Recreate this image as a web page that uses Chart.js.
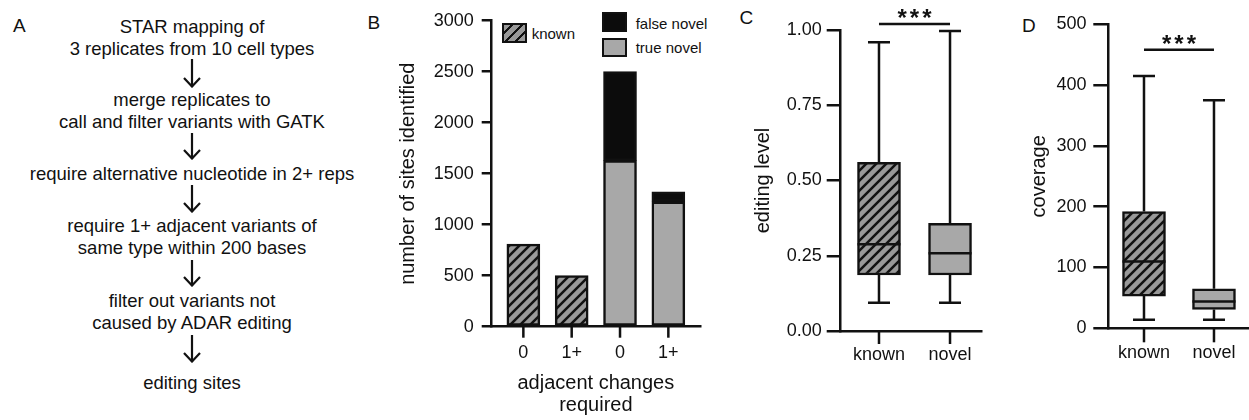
<!DOCTYPE html>
<html lang="en">
<head>
<meta charset="UTF-8">
<title>RNA editing sites</title>
<script src="https://cdn.jsdelivr.net/npm/chart.js"></script>
<style>
  body { margin: 0; background: #fff; color: #111; font-family: "Liberation Sans", Arial, sans-serif; }
  .fig { position: relative; width: 1249px; height: 420px; overflow: hidden; }
  .letter { position: absolute; font-size: 19px; line-height: 19px; }
  .flow { position: absolute; left: 0; width: 384px; text-align: center; font-size: 18.5px; line-height: 22px; white-space: nowrap; }
  .arrow { position: absolute; left: 181.7px; }
  .chart-box { position: absolute; top: 0; height: 420px; }
  .leg { position: absolute; font-size: 15px; line-height: 18px; white-space: nowrap; }
  .sw { position: absolute; box-sizing: border-box; border: 2px solid #111; }
</style>
</head>
<body>
<div class="fig">
  <!-- panel letters -->
  <div class="letter" style="left:13px; top:16px;">A</div>
  <div class="letter" style="left:367.5px; top:12.5px;">B</div>
  <div class="letter" style="left:739.5px; top:7.5px;">C</div>
  <div class="letter" style="left:1022px; top:16px;">D</div>

  <!-- A: pipeline -->
  <div class="flow" style="top:15.5px;">STAR mapping of</div>
  <div class="flow" style="top:37.5px;">3 replicates from 10 cell types</div>
  <div class="flow" style="top:89px;">merge replicates to</div>
  <div class="flow" style="top:111px;">call and filter variants with GATK</div>
  <div class="flow" style="top:163px;">require alternative nucleotide in 2+ reps</div>
  <div class="flow" style="top:215px;">require 1+ adjacent variants of</div>
  <div class="flow" style="top:237px;">same type within 200 bases</div>
  <div class="flow" style="top:290px;">filter out variants not</div>
  <div class="flow" style="top:312px;">caused by ADAR editing</div>
  <div class="flow" style="top:372px;">editing sites</div>
  <div id="arrows"></div>

  <!-- B legend -->
  <div class="sw" style="left:501.7px; top:23px; width:25px; height:20px; background:repeating-linear-gradient(135deg, #999 0px, #999 4.8px, #111 4.8px, #111 7px);"></div>
  <div class="leg" style="left:531.7px; top:25px;">known</div>
  <div class="sw" style="left:602px; top:12px; width:25px; height:20px; background:#0c0c0c;"></div>
  <div class="leg" style="left:635.7px; top:15px;">false novel</div>
  <div class="sw" style="left:602px; top:38px; width:25px; height:19px; background:#a8a8a8;"></div>
  <div class="leg" style="left:635.7px; top:38.5px;">true novel</div>

  <div class="chart-box" style="left:365px; width:355px;"><canvas id="sitesChart"></canvas></div>
  <div class="chart-box" style="left:720px; width:265px;"><canvas id="levelChart"></canvas></div>
  <div class="chart-box" style="left:985px; width:264px;"><canvas id="coverageChart"></canvas></div>
</div>

<script>
// B: number of sites by adjacent changes required
const siteLabels = ["0", "1+", "0", "1+"];
const knownSites = [810, 500];          // bars 0, 1
const trueNovelSites = [1628, 1225];    // bars 2, 3
const falseNovelSites = [872, 98];      // bars 2, 3

// C: editing level
const groups = ["known", "novel"];
const levelMin = [0.094, 0.094];
const levelQ1 = [0.186, 0.186];
const levelMedian = [0.288, 0.258];
const levelQ3 = [0.560, 0.358];
const levelMax = [0.959, 0.997];

// D: coverage
const covMin = [14, 14];
const covQ1 = [53, 31];
const covMedian = [110, 44];
const covQ3 = [192, 65];
const covMax = [415, 375];

Chart.defaults.font.family = '"Liberation Sans", Arial, sans-serif';
Chart.defaults.color = "#111";
Chart.defaults.animation = false;

const INK = "#111";
const GREY = "#a8a8a8";

// flow chart arrows
const arrowSpans = [[59.3, 88.3], [133, 160], [185, 213], [260, 287], [335, 363]];
document.getElementById("arrows").innerHTML = arrowSpans.map(([t, b]) => {
    const h = b - t;
    return `<svg class="arrow" style="top:${t}px" width="20" height="${h}">
      <line x1="10" y1="0" x2="10" y2="${h - 1}" stroke="${INK}" stroke-width="2.2"/>
      <polyline points="2,${h - 10} 10,${h - 1.5} 18,${h - 10}" fill="none" stroke="${INK}" stroke-width="2.2"/>
    </svg>`;
}).join("");

function hatchPattern() {
    const c = document.createElement("canvas");
    c.width = 10; c.height = 10;
    const g = c.getContext("2d");
    g.fillStyle = "#999";
    g.fillRect(0, 0, 10, 10);
    g.strokeStyle = INK;
    g.lineWidth = 2.5;
    g.beginPath();
    g.moveTo(-2, 12); g.lineTo(12, -2);
    g.moveTo(-2, 2); g.lineTo(2, -2);
    g.moveTo(8, 12); g.lineTo(12, 8);
    g.stroke();
    return g.createPattern(c, "repeat");
}
const HATCH = hatchPattern();

function valueAxis(o) {
    return {
        min: o.min, max: o.max,
        border: { display: true, color: INK, width: 2.5 },
        grid: { display: true, drawOnChartArea: false, drawTicks: true, tickLength: o.tickLength, color: INK, lineWidth: 2.5 },
        ticks: { stepSize: o.step, padding: o.pad, font: { size: 18 }, color: INK, callback: o.fmt },
        title: { display: true, text: o.title, font: { size: 20 }, color: INK, padding: { top: o.titlePad, bottom: 0 } },
        afterFit: s => { s.width = o.width; }
    };
}

function groupAxis(o) {
    return {
        type: "linear", min: o.min, max: o.max,
        offset: false,
        border: { display: true, color: INK, width: 2.5 },
        // tick marks of the group axis are drawn by the xTickMarks plugin
        grid: { display: false, offset: false, drawOnChartArea: false, drawTicks: true, tickLength: o.tickLength, color: INK, lineWidth: 2.5 },
        afterBuildTicks: s => { s.ticks = o.labels.map((_, i) => ({ value: i })); },
        ticks: { padding: o.pad, font: { size: 18 }, color: INK, autoSkip: false, maxRotation: 0, callback: v => o.labels[v] },
        title: o.title
            ? { display: true, text: o.title, font: { size: 20, lineHeight: 1.1 }, color: INK, padding: { top: 0, bottom: 4 } }
            : { display: false },
        afterFit: s => { s.height = o.height; }
    };
}

const xTickMarks = {
    id: "xTickMarks",
    afterDraw(chart, args, o) {
        const x = chart.scales.x, ctx = chart.ctx;
        const base = chart.chartArea.bottom;
        ctx.save();
        ctx.fillStyle = INK;
        o.positions.forEach(v => {
            const px = x.getPixelForValue(v);
            ctx.fillRect(px - 1.25, base, 2.5, o.length);
        });
        ctx.restore();
    }
};

// ---- B ----
new Chart(document.getElementById("sitesChart"), {
    type: "bar",
    data: {
        datasets: [
            { label: "known", data: knownSites.map((v, i) => ({ x: i, y: v })), backgroundColor: HATCH },
            { label: "true novel", data: trueNovelSites.map((v, i) => ({ x: i + 2, y: v })), backgroundColor: GREY },
            { label: "false novel", data: falseNovelSites.map((v, i) => ({ x: i + 2, y: v })), backgroundColor: "#0c0c0c" }
        ]
    },
    options: {
        responsive: true,
        maintainAspectRatio: false,
        layout: { padding: { left: 0, right: 20, top: 20.7, bottom: 0 } },
        datasets: { bar: { barThickness: 33, borderColor: INK, borderWidth: 2.5, borderSkipped: false } },
        plugins: {
            legend: { display: false }, tooltip: { enabled: false },
            xTickMarks: { positions: siteLabels.map((_, i) => i), length: 11 }
        },
        scales: {
            x: Object.assign(groupAxis({ min: -0.655, max: 3.655, labels: siteLabels, tickLength: 10, pad: 6, height: 93.3,
                title: ["adjacent changes", "required"] }), { stacked: true }),
            y: Object.assign(valueAxis({ min: 0, max: 3000, step: 500, tickLength: 10, pad: 8, width: 126.7,
                title: "number of sites identified", titlePad: 31 }), { stacked: true })
        }
    },
    plugins: [xTickMarks]
});

// ---- box plots (C, D) ----
const whiskers = {
    id: "whiskers",
    afterDatasetsDraw(chart, args, o) {
        const { ctx, scales: { x, y } } = chart;
        ctx.save();
        ctx.strokeStyle = INK;
        ctx.lineWidth = 2.5;
        o.median.forEach((m, i) => {
            const cx = x.getPixelForValue(i);
            const yMin = y.getPixelForValue(o.min[i]), yQ1 = y.getPixelForValue(o.q1[i]);
            const yQ3 = y.getPixelForValue(o.q3[i]), yMax = y.getPixelForValue(o.max[i]);
            const yMed = y.getPixelForValue(m);
            ctx.beginPath();
            ctx.moveTo(cx, yQ1); ctx.lineTo(cx, yMin);
            ctx.moveTo(cx - 11, yMin); ctx.lineTo(cx + 11, yMin);
            ctx.moveTo(cx, yQ3); ctx.lineTo(cx, yMax);
            ctx.moveTo(cx - 11, yMax); ctx.lineTo(cx + 11, yMax);
            ctx.moveTo(cx - 21.5, yMed); ctx.lineTo(cx + 21.5, yMed);
            ctx.stroke();
        });
        // significance bar
        const sy = y.getPixelForValue(o.sigY);
        ctx.beginPath();
        ctx.moveTo(x.getPixelForValue(0), sy);
        ctx.lineTo(x.getPixelForValue(1), sy);
        ctx.stroke();
        ctx.fillStyle = INK;
        ctx.font = 'bold 24px "Liberation Sans", Arial, sans-serif';
        ctx.textAlign = "center";
        ctx.textBaseline = "alphabetic";
        ctx.letterSpacing = "3px";
        ctx.fillText("***", (x.getPixelForValue(0) + x.getPixelForValue(1)) / 2 + 1.5, sy + 2);
        ctx.restore();
    }
};

function boxChart(id, d) {
    return new Chart(document.getElementById(id), {
        type: "bar",
        data: {
            datasets: [{
                data: groups.map((g, i) => ({ x: i, y: [d.q1[i], d.q3[i]] })),
                backgroundColor: [HATCH, GREY]
            }]
        },
        options: {
            responsive: true,
            maintainAspectRatio: false,
            layout: { padding: d.padding },
            datasets: { bar: { barThickness: 43, borderColor: INK, borderWidth: 2.5, borderSkipped: false } },
            plugins: {
                legend: { display: false }, tooltip: { enabled: false },
                whiskers: { min: d.min, q1: d.q1, median: d.median, q3: d.q3, max: d.max, sigY: d.sigY },
                xTickMarks: { positions: groups.map((_, i) => i), length: d.x.tickLength }
            },
            scales: { x: groupAxis(d.x), y: valueAxis(d.y) }
        },
        plugins: [whiskers, xTickMarks]
    });
}

boxChart("levelChart", {
    min: levelMin, q1: levelQ1, median: levelMedian, q3: levelQ3, max: levelMax, sigY: 1.02,
    padding: { left: 0, right: 3.3, top: 30, bottom: 0 },
    x: { min: -0.539, max: 1.446, labels: groups, tickLength: 13, pad: 0, height: 89 },
    y: { min: 0, max: 1, step: 0.25, fmt: v => v.toFixed(2), tickLength: 14, pad: 5, width: 120.7,
        title: "editing level", titlePad: 31.3 }
});

boxChart("coverageChart", {
    min: covMin, q1: covQ1, median: covMedian, q3: covQ3, max: covMax, sigY: 458,
    padding: { left: 0, right: 1, top: 24.3, bottom: 0 },
    x: { min: -0.51, max: 1.486, labels: groups, tickLength: 14, pad: 0, height: 91.7 },
    y: { min: 0, max: 500, step: 100, tickLength: 15, pad: 6.7, width: 123.3,
        title: "coverage", titlePad: 42 }
});
</script>
</body>
</html>
